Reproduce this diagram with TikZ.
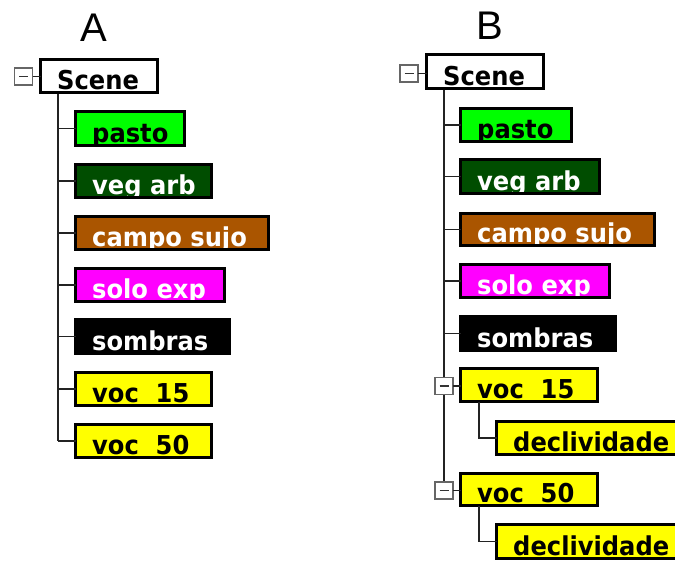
\documentclass[tikz,border=0pt]{standalone}
\usepackage{fontspec}
\setmainfont{DejaVu Sans}
\newfontfamily\boxff{DejaVu Sans}[FakeStretch=0.93]
\newfontfamily\labfont{Liberation Sans}
\usetikzlibrary{fit}
\definecolor{lime}{RGB}{0,255,0}
\definecolor{darkveg}{RGB}{0,77,0}
\definecolor{brownsujo}{RGB}{170,85,0}
\definecolor{magentaexp}{RGB}{255,0,255}
\definecolor{yellowvoc}{RGB}{255,255,0}
\definecolor{connc}{RGB}{35,35,35}
\newcommand\boxfont{\boxff\bfseries\fontsize{26}{30}\selectfont}
\tikzset{
  boxline/.style={draw=black, line width=3pt},
  conn/.style={draw=connc, line width=1.9pt},
  minusbox/.style={draw=black!60, line width=1.3pt, fill=white, minimum width=18pt, minimum height=17pt, inner sep=0pt, outer sep=0pt,
    path picture={\draw[line width=1.4pt, black!80] ([xshift=-4.5pt]path picture bounding box.center) -- ([xshift=4.5pt]path picture bounding box.center);}},
  panellabel/.style={font=\labfont\fontsize{40}{44}\selectfont, anchor=base, inner sep=0pt}
}
% name, x1, y1, x2, y2, fill, text colour, text
\newcommand\tbox[8]{%
  \coordinate (#1-a) at (#2+1.5,#3+1.5);
  \coordinate (#1-b) at (#4-1.5,#5-1.5);
  \node[fit=(#1-a)(#1-b), inner sep=0pt, outer sep=0pt, fill=#6] (#1) {};
  \begin{scope}
    \clip (#1.south west) rectangle (#1.north east);
    \node[anchor=base west, inner sep=0pt, text=#7, font=\boxfont] (#1-t) at ([xshift=16.5pt,yshift=2.8pt]#1.south west) {#8};
  \end{scope}
  \draw[boxline] (#1.south west) rectangle (#1.north east);%
}
\begin{document}
\begin{tikzpicture}[x=1pt,y=-1pt]
\clip (0,0) rectangle (675,561);
\fill[white] (0,0) rectangle (675,561);

% ---------- Panel A ----------
\node[panellabel] (labA) at (93.5,42) {A};
\coordinate (trunkA) at (58,93);
\draw[conn] (58,93) -- (58,441);
\tbox{sceneA}{39}{58}{159}{94}{white}{black}{Scene}
\node[minusbox] (mA) at (23.5,76.5) {};
\draw[conn] (mA.east) -- (mA.east -| sceneA.west);

\tbox{A1}{74}{110}{186}{147}{lime}{black}{pasto}
\tbox{A2}{74}{163}{213}{199}{darkveg}{white}{veg arb}
\tbox{A3}{74}{215}{270}{251}{brownsujo}{white}{campo sujo}
\tbox{A4}{74}{267}{226}{303}{magentaexp}{white}{solo exp}
\tbox{A5}{74}{318}{231}{355}{black}{white}{sombras}
\tbox{A6}{74}{371}{213}{407}{yellowvoc}{black}{voc\ \ 15}
\tbox{A7}{74}{423}{213}{459}{yellowvoc}{black}{voc\ \ 50}
\foreach \n in {A1,A2,A3,A4,A5,A6,A7}{
  \draw[conn] (\n.west -| trunkA) -- (\n.west);
}

% ---------- Panel B ----------
\node[panellabel] (labB) at (490,40) {B};
\coordinate (trunkB) at (444,89);
\draw[conn] (444,89) -- (444,482);
\tbox{sceneB}{425}{53}{545}{90}{white}{black}{Scene}
\node[minusbox] (mB) at (409,73.5) {};
\draw[conn] (mB.east) -- (mB.east -| sceneB.west);

\tbox{B1}{459}{107}{573}{143}{lime}{black}{pasto}
\tbox{B2}{459}{158}{601}{195}{darkveg}{white}{veg arb}
\tbox{B3}{459}{212}{656}{247}{brownsujo}{white}{campo sujo}
\tbox{B4}{459}{263}{611}{299}{magentaexp}{white}{solo exp}
\tbox{B5}{459}{315}{617}{352}{black}{white}{sombras}
\foreach \n in {B1,B2,B3,B4,B5}{
  \draw[conn] (\n.west -| trunkB) -- (\n.west);
}
\tbox{B6}{459}{367}{599}{403}{yellowvoc}{black}{voc\ \ 15}
\tbox{B7}{495}{420}{690}{456}{yellowvoc}{black}{declividade}
\tbox{B8}{459}{472}{599}{507}{yellowvoc}{black}{voc\ \ 50}
\tbox{B9}{495}{523}{690}{560}{yellowvoc}{black}{declividade}
\node[minusbox] (m6) at (444,386) {};
\node[minusbox] (m8) at (444,490.5) {};
\draw[conn] (m6.east) -- (m6.east -| B6.west);
\draw[conn] (m8.east) -- (m8.east -| B8.west);
\coordinate (sub6) at (479,403);
\coordinate (sub8) at (479,507);
\draw[conn] (B6.south -| sub6) |- (B7.west);
\draw[conn] (B8.south -| sub8) |- (B9.west);
\end{tikzpicture}
\end{document}
